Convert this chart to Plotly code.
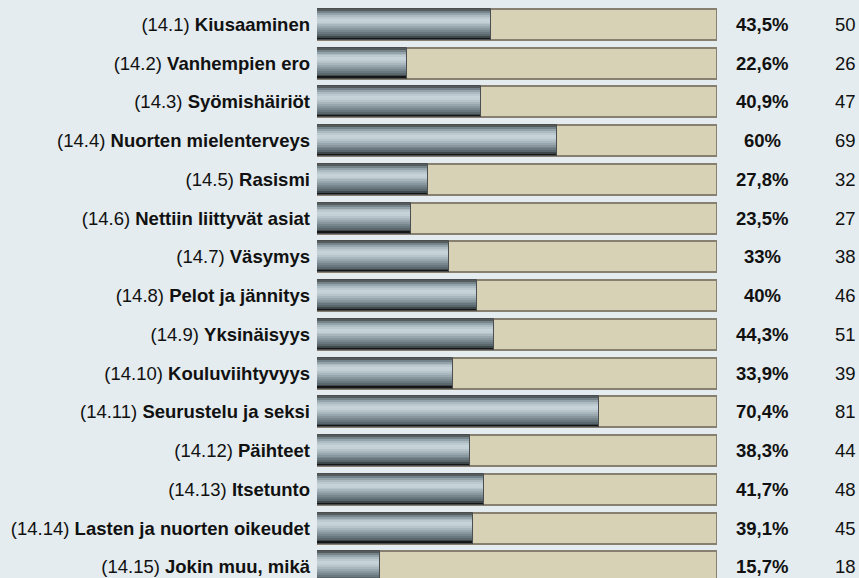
import plotly.graph_objects as go

# Survey question 14: share of respondents (n=115) choosing each topic
codes = ["14.1", "14.2", "14.3", "14.4", "14.5", "14.6", "14.7", "14.8",
         "14.9", "14.10", "14.11", "14.12", "14.13", "14.14", "14.15"]
topics = ["Kiusaaminen", "Vanhempien ero", "Syömishäiriöt", "Nuorten mielenterveys",
          "Rasismi", "Nettiin liittyvät asiat", "Väsymys", "Pelot ja jännitys",
          "Yksinäisyys", "Kouluviihtyvyys", "Seurustelu ja seksi", "Päihteet",
          "Itsetunto", "Lasten ja nuorten oikeudet", "Jokin muu, mikä"]
percents = [43.5, 22.6, 40.9, 60, 27.8, 23.5, 33, 40, 44.3, 33.9, 70.4, 38.3, 41.7, 39.1, 15.7]
counts = [50, 26, 47, 69, 32, 27, 38, 46, 51, 39, 81, 44, 48, 45, 18]

FONT = "Liberation Sans, Arial, sans-serif"
FS = 18.5
BG = "#e4ecef"
INK = "#111111"

rows = list(range(len(topics)))
tick_text = [f"({c}) <b>{t}</b>" for c, t in zip(codes, topics)]


def fmt_pct(v):
    s = f"{v:.1f}".rstrip("0").rstrip(".")
    return s.replace(".", ",") + "%"


fig = go.Figure()

# beige track behind every bar (full 100 %)
fig.add_trace(go.Bar(
    x=[100] * len(rows), y=rows, orientation="h", width=0.8, offset=-0.4,
    marker=dict(color="#d7d1b5", line=dict(color="#878070", width=2)),
    hoverinfo="skip", showlegend=False,
))

# metallic bar: overlapping thin horizontal bands, top to bottom
band_colors = ["#555a5b", "#75848a", "#93a3a9", "#abbbc1", "#bccacf", "#c6d3d8",
               "#c3d0d5", "#b7c5cb", "#a8b7bd", "#98a7ad", "#88979d", "#78878e",
               "#69777e", "#5a676d", "#3e4749", "#161616"]
n_bands = len(band_colors)
band_w = 0.8 / n_bands
for k, col in enumerate(band_colors):
    w = band_w if k == n_bands - 1 else band_w * 1.8
    fig.add_trace(go.Bar(
        x=percents, y=rows, orientation="h", width=w,
        offset=-0.4 + k * band_w,
        marker=dict(color=col, line=dict(width=0)),
        hoverinfo="skip", showlegend=False,
    ))

# thin dark edge around the metallic bar
fig.add_trace(go.Bar(
    x=percents, y=rows, orientation="h", width=0.8, offset=-0.4,
    marker=dict(color="rgba(0,0,0,0)", line=dict(color="#4a4e50", width=1)),
    hovertemplate="%{x}%<extra></extra>", showlegend=False,
))

# value columns to the right of the tracks (paper x beyond the plot area)
annotations = []
for r, p, c in zip(rows, percents, counts):
    annotations.append(dict(
        x=1.1125, y=r, xref="paper", yref="y", text=f"<b>{fmt_pct(p)}</b>",
        showarrow=False, xanchor="center", yanchor="middle",
        font=dict(family=FONT, size=FS, color=INK)))
    annotations.append(dict(
        x=1.32, y=r, xref="paper", yref="y", text=str(c),
        showarrow=False, xanchor="center", yanchor="middle",
        font=dict(family=FONT, size=FS, color=INK)))

fig.update_layout(
    width=859, height=578,
    margin=dict(l=317, r=142, t=0, b=0),
    paper_bgcolor=BG, plot_bgcolor=BG,
    barmode="overlay", bargap=0,
    font=dict(family=FONT, size=FS, color=INK),
    annotations=annotations,
    xaxis=dict(range=[0, 100], visible=False, fixedrange=True),
    yaxis=dict(range=[14.284, -0.632], tickmode="array", tickvals=rows,
               ticktext=tick_text, ticks="", showgrid=False, zeroline=False,
               showline=False, ticklabelstandoff=6, automargin=False,
               tickfont=dict(family=FONT, size=FS, color=INK)),
)

fig.write_html("out.html")
